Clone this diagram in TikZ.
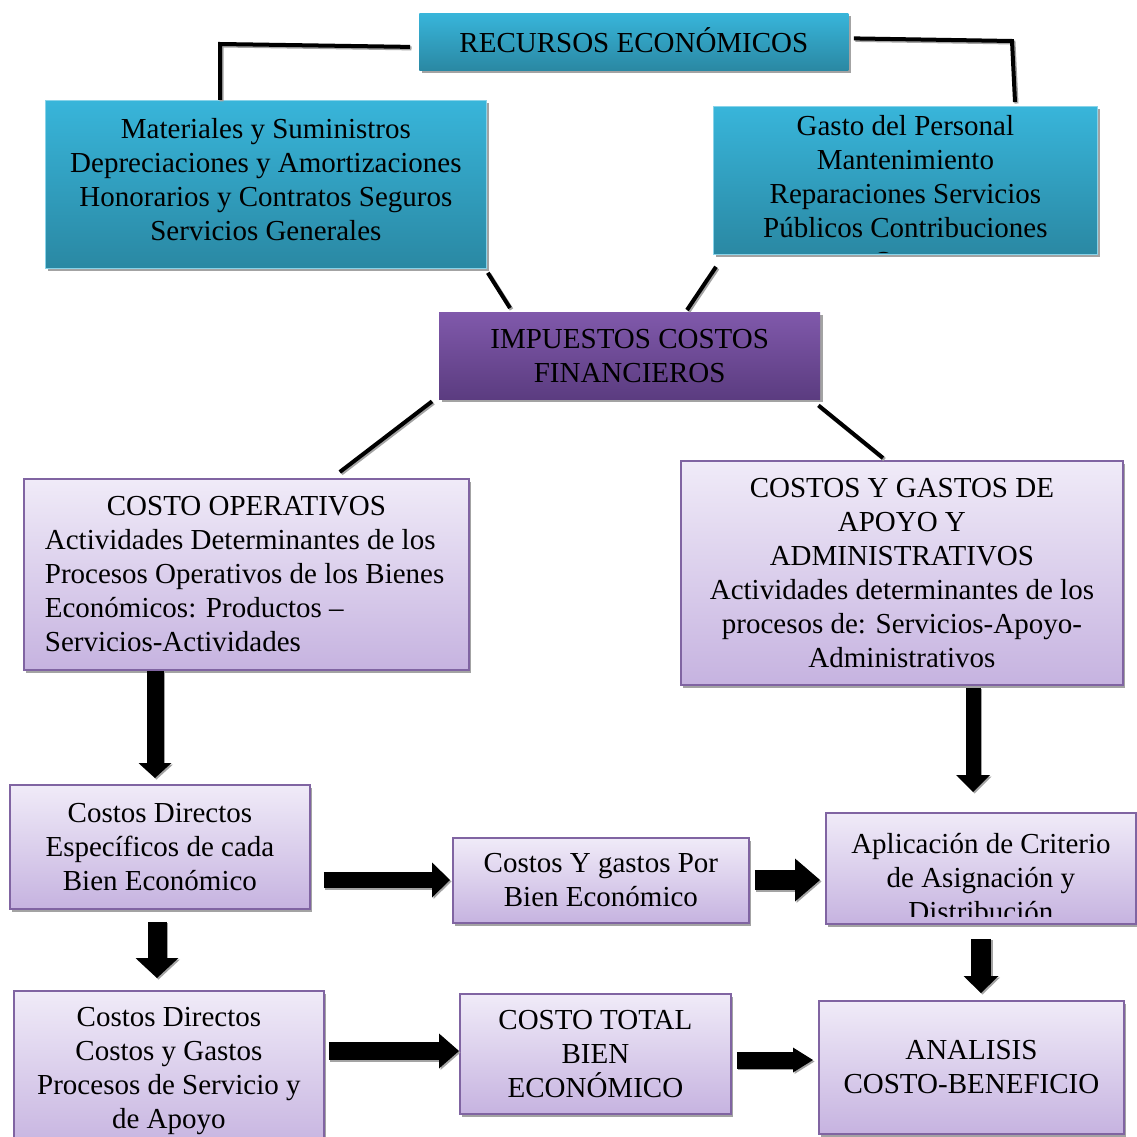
\documentclass[tikz,border=0pt]{standalone}
\usepackage{fontspec}
\setmainfont{Liberation Serif}
\usetikzlibrary{calc,shadows,arrows.meta}

\definecolor{blueT}{HTML}{38B5DA}
\definecolor{blueB}{HTML}{2A88A3}
\definecolor{purT}{HTML}{8059AB}
\definecolor{purB}{HTML}{5B3C80}
\definecolor{lavT}{HTML}{F0EBF8}
\definecolor{lavB}{HTML}{C6B3E0}
\definecolor{lavEdge}{HTML}{8064A2}
\definecolor{shadowgray}{HTML}{A3A3A3}

\tikzset{
  base/.style={rectangle, anchor=north west, inner sep=0pt,
    font=\fontsize{29}{34}\selectfont, align=center,
    drop shadow={shadow xshift=2.5pt, shadow yshift=-3pt, fill=shadowgray, opacity=1}},
  bluebox/.style={base, top color=blueT, bottom color=blueB, draw=blueT!60!white, line width=0.8pt},
  purplebox/.style={base, top color=purT, bottom color=purB},
  lavbox/.style={base, top color=lavT, bottom color=lavB, draw=lavEdge, line width=1.8pt},
  boxtext/.style={anchor=center, align=center, inner sep=0pt, font=\fontsize{29}{34}\selectfont},
  % text of a box, placed with a vertical offset and cut off short of the bottom edge
  cliptext/.style n args={3}{path picture={
      \clip (path picture bounding box.north west) rectangle ($(path picture bounding box.south east)+(0,-#2)$);
      \node[boxtext] at ($(path picture bounding box.center)+(0,#1)$) {#3};}},
  conn/.style={line width=4pt, black},
  connshadow/.style={line width=4pt, shadowgray, transform canvas={shift={(1.5pt,-1.5pt)}}},
  barrow/.style n args={3}{line width=#1, -{Triangle[width=#2,length=#3,line width=0pt]}},
}

% thick block arrow with a grey drop shadow
\newcommand\blockarrow[3]{%
  \draw[#1, shadowgray, transform canvas={shift={(1.5pt,-1.5pt)}}] #2 -- #3;
  \draw[#1, black] #2 -- #3;}
% plain connector line with a grey drop shadow
\newcommand\link[1]{\draw[connshadow] #1; \draw[conn] #1;}

\begin{document}
\begin{tikzpicture}[x=1pt, y=-1pt]
\useasboundingbox (0,0) rectangle (1137,1137);
\fill[white] (0,0) rectangle (1137,1137);
\clip (0,0) rectangle (1137,1137);

% ---- top level ----
\node[bluebox, draw=none, minimum width=429pt, minimum height=57pt,
  cliptext={-2}{0}{RECURSOS ECONÓMICOS}] (top) at (419,13) {};

\node[bluebox, minimum width=441pt, minimum height=168pt,
  cliptext={-5}{0}{Materiales y Suministros\\Depreciaciones y Amortizaciones\\Honorarios y Contratos Seguros\\Servicios Generales}]
  (lb) at (45,100) {};

\node[bluebox, minimum width=384pt, minimum height=148pt,
  cliptext={13}{2}{Gasto del Personal\\Mantenimiento\\Reparaciones Servicios\\Públicos Contribuciones\\Otros}]
  (rb) at (713,106) {};

\node[purplebox, minimum width=381pt, minimum height=87pt] (imp) at (439,312) {IMPUESTOS COSTOS\\FINANCIEROS};

% ---- second level ----
\node[lavbox, minimum width=445pt, minimum height=191pt, align=left] (op) at (23,478)
  {\makebox[403pt]{COSTO OPERATIVOS}\\Actividades Determinantes de los\\Procesos Operativos de los Bienes\\Económicos: Productos –\\Servicios-Actividades};

\node[lavbox, minimum width=442pt, minimum height=224pt] (apoyo) at (680,460)
  {COSTOS Y GASTOS DE\\APOYO Y\\ADMINISTRATIVOS\\Actividades determinantes de los\\procesos de: Servicios-Apoyo-\\Administrativos};

% ---- lower levels ----
\node[lavbox, minimum width=300pt, minimum height=124pt] (ce1) at (9,784)
  {Costos Directos\\Específicos de cada\\Bien Económico};
\node[lavbox, minimum width=310pt, minimum height=160pt] (ce2) at (13,990)
  {Costos Directos\\Costos y Gastos\\Procesos de Servicio y\\de Apoyo};
\node[lavbox, minimum width=296pt, minimum height=85pt] (cyg) at (452,837)
  {Costos Y gastos Por\\Bien Económico};
\node[lavbox, minimum width=310pt, minimum height=111pt,
  cliptext={9}{7}{Aplicación de Criterio\\de Asignación y\\Distribución}]
  (apl) at (825,812) {};
\node[lavbox, minimum width=271pt, minimum height=120pt] (ct) at (459,993)
  {COSTO TOTAL\\BIEN\\ECONÓMICO};
\node[lavbox, minimum width=305pt, minimum height=133pt] (an) at (818,1000)
  {ANALISIS\\COSTO-BENEFICIO};

% ---- connector lines ----
\link{($(top.west)+(-9,5)$) -- ($(lb.north west)+(175,-56)$) -- ($(lb.north west)+(175,0)$)}
\link{($(top.east)+(5,-3.5)$) -- ($(rb.north west)+(299,-65)$) -- ($(rb.north west)+(302,-4)$)}
\link{($(lb.south east)+(1,4)$) -- ($(imp.north west)+(71,-4)$)}
\link{($(rb.south west)+(3,12)$) -- ($(imp.north west)+(248,-2)$)}
\link{($(imp.south west)+(-7,2)$) -- ($(op.north east)+(-130,-6)$)}
\link{($(imp.south east)+(-2,6)$) -- ($(apoyo.north west)+(203,-2)$)}

% ---- block arrows ----
\blockarrow{barrow={17pt}{33pt}{15pt}, shorten >=6pt}{(op.south -| 155,0)}{(ce1.north -| 155,0)}
\blockarrow{barrow={19pt}{43pt}{20pt}, shorten <=12pt, shorten >=12pt}{(ce1.south -| 157,0)}{(ce2.north -| 157,0)}
\blockarrow{barrow={16pt}{35pt}{18pt}, shorten <=13pt, shorten >=2pt}{(ce1.east |- 0,880)}{(cyg.west |- 0,880)}
\blockarrow{barrow={20pt}{43pt}{25pt}, shorten <=5pt, shorten >=5pt}{(cyg.east |- 0,880)}{(apl.west |- 0,880)}
\blockarrow{barrow={15pt}{34pt}{17pt}, shorten <=2pt, shorten >=20pt}{(apoyo.south -| 973,0)}{(apl.north -| 973,0)}
\blockarrow{barrow={20pt}{35pt}{17pt}, shorten <=14pt, shorten >=7pt}{(apl.south -| 981,0)}{(an.north -| 981,0)}
\blockarrow{barrow={18pt}{35pt}{20pt}, shorten <=4pt}{(ce2.east |- 0,1051)}{(ct.west |- 0,1051)}
\blockarrow{barrow={17pt}{25pt}{20pt}, shorten <=5pt, shorten >=5pt}{(ct.east |- 0,1060)}{(an.west |- 0,1060)}
\end{tikzpicture}
\end{document}
